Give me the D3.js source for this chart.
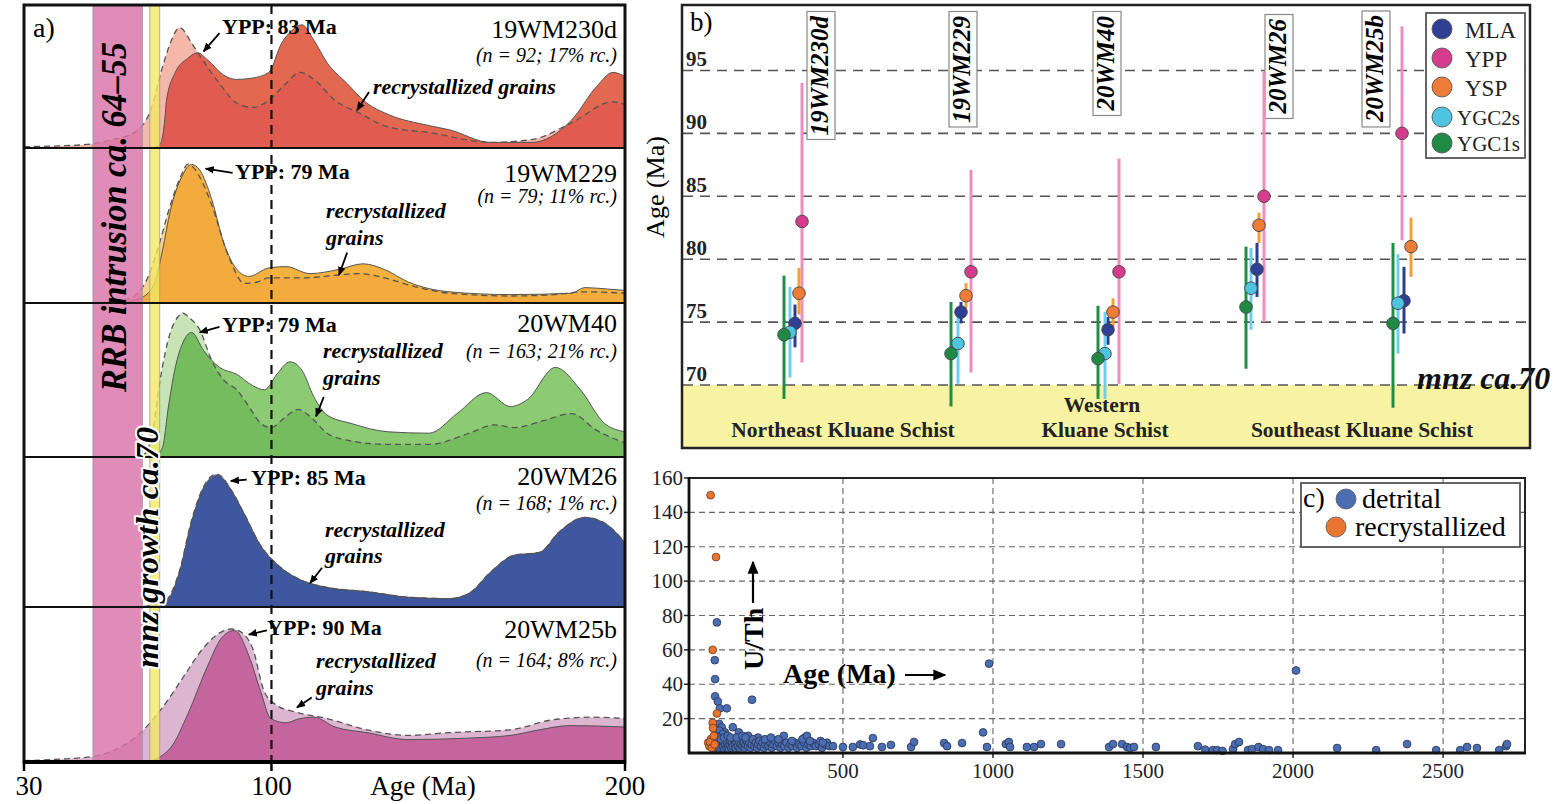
<!DOCTYPE html>
<html><head><meta charset="utf-8">
<script src="https://cdn.jsdelivr.net/npm/d3@7"></script>
<style>body{margin:0;background:#fff}svg{display:block}</style>
</head><body>
<script>
// ================= DATA =================
// ---- panel a: KDE curves, [age (Ma), relative density] ----
const ageTicksA = [30, 100, 200];
const sampleNames = ["19WM230d", "19WM229", "20WM40", "20WM26", "20WM25b"];
const nLabels = ["(n = 92; 17% rc.)", "(n = 79; 11% rc.)", "(n = 163; 21% rc.)", "(n = 168; 1% rc.)", "(n = 164; 8% rc.)"];
const yppLabels = ["YPP: 83 Ma", "YPP: 79 Ma", "YPP: 79 Ma", "YPP: 85 Ma", "YPP: 90 Ma"];
const rrbBand = [49.5, 63.5];
const mnzBand = [65.6, 68.4];
const refAge = 100;

const kdeDashed1 = [[30,0.01],[40,0.015],[49.6,0.03],[55,0.06],[61.2,0.11],[65.8,0.27],[69.2,0.58],[71.4,0.75],[74,0.86],[77.4,0.75],[79.7,0.66],[85.3,0.46],[90.2,0.32],[94.7,0.29],[99.2,0.34],[104.1,0.46],[108,0.54],[112,0.49],[118,0.34],[124.8,0.25],[133,0.15],[144.6,0.11],[162,0.04],[173.6,0.06],[184.9,0.18],[196.6,0.33],[200,0.31]];
const kdeSolid1 = [[66.5,0],[68.6,0.03],[69.8,0.2],[70.3,0.34],[72.8,0.54],[76.3,0.64],[79.1,0.68],[81.9,0.63],[86.5,0.52],[90.2,0.49],[94.7,0.5],[99.2,0.54],[102.9,0.75],[105.8,0.84],[108.6,0.88],[112,0.77],[115.7,0.61],[121.4,0.46],[127,0.32],[133,0.24],[144.6,0.16],[150.3,0.13],[162,0.04],[173.6,0.04],[184.9,0.2],[192,0.44],[196.6,0.54],[200,0.51]];
const kdeDashed2 = [[30,0],[55,0.005],[58,0.02],[61.2,0.05],[64.6,0.16],[68,0.4],[71.4,0.7],[74.6,0.92],[76.3,0.99],[77.4,0.98],[79.7,0.9],[83.1,0.7],[87.9,0.33],[92.4,0.14],[96,0.15],[99.2,0.18],[104.1,0.18],[109.7,0.18],[119,0.2],[124.8,0.21],[132,0.18],[138.7,0.13],[150.3,0.07],[167.6,0.05],[180,0.06],[188.6,0.08],[200,0.07]];
const kdeSolid2 = [[58,0],[61.2,0.02],[63.5,0.04],[66.9,0.14],[69.2,0.38],[71.4,0.66],[74.6,0.9],[77.4,0.99],[79.7,0.95],[83.1,0.74],[86.5,0.43],[90.2,0.24],[93.6,0.19],[99.2,0.25],[104.1,0.26],[110.9,0.21],[119.1,0.24],[125.9,0.28],[131.9,0.24],[138.7,0.15],[150.3,0.08],[167.6,0.06],[184.9,0.07],[188.6,0.11],[195,0.1],[200,0.09]];
const kdeDashed3 = [[30,0],[62,0],[64.5,0.03],[66.5,0.2],[68.5,0.55],[71.4,0.89],[73.5,1.0],[74.9,1.03],[76.5,1.0],[79.7,0.91],[83.1,0.69],[86.5,0.55],[90.2,0.48],[93.6,0.36],[97,0.24],[99.8,0.21],[104.1,0.29],[107.5,0.34],[110.9,0.29],[115.7,0.17],[121.4,0.12],[133,0.09],[144.6,0.09],[156,0.17],[163,0.23],[168.7,0.21],[177,0.26],[184.9,0.31],[192,0.19],[200,0.1]];
const kdeSolid3 = [[67,0],[69.2,0.07],[70.8,0.35],[72.8,0.64],[75,0.82],[77.4,0.89],[80.8,0.76],[85.3,0.64],[90.2,0.59],[94.7,0.51],[98,0.48],[101.8,0.6],[105.2,0.68],[108.6,0.62],[112,0.43],[115.7,0.3],[122.5,0.24],[133,0.18],[144.6,0.17],[152.5,0.31],[160.8,0.46],[167.6,0.36],[172.4,0.41],[180.3,0.64],[187.4,0.48],[194.2,0.24],[200,0.18]];
const kdeDashed4 = [[62,0],[67.5,0.02],[70.3,0.05],[74,0.26],[77.4,0.62],[80.8,0.86],[84.5,0.95],[89,0.82],[92.4,0.66],[96.9,0.44],[101.8,0.3],[108.6,0.19],[115.7,0.14],[127,0.11],[138.7,0.07],[150.3,0.06],[156,0.1],[162,0.25],[168.7,0.37],[175.8,0.39],[181.5,0.54],[188.6,0.64],[194.2,0.6],[200,0.46]];
const kdeSolid4 = [[62,0],[67.5,0.02],[70.3,0.04],[74,0.25],[77.4,0.61],[80.8,0.85],[84.8,0.94],[89,0.82],[92.4,0.66],[96.9,0.44],[101.8,0.3],[108.6,0.19],[115.7,0.14],[127,0.11],[138.7,0.07],[150.3,0.06],[156,0.1],[162,0.25],[168.7,0.37],[175.8,0.39],[181.5,0.54],[188.6,0.64],[194.2,0.6],[200,0.46]];
const kdeDashed5 = [[30,0.01],[40,0.02],[49.6,0.04],[55,0.08],[61.2,0.17],[69.2,0.39],[74.9,0.6],[80.6,0.81],[85.9,0.93],[88.5,0.95],[90.5,0.94],[94.7,0.81],[98,0.5],[101.8,0.4],[106.3,0.36],[115.7,0.31],[127,0.23],[138.7,0.19],[150.3,0.21],[167.6,0.23],[179.2,0.3],[190.8,0.32],[200,0.31]];
const kdeSolid5 = [[65,0],[68,0.03],[72,0.12],[76.3,0.34],[82,0.69],[86,0.89],[89.6,0.94],[93.6,0.76],[97,0.5],[99.8,0.31],[104.1,0.28],[108,0.31],[112,0.32],[118,0.25],[127,0.21],[138.7,0.16],[155,0.17],[167.6,0.19],[175.8,0.23],[184.5,0.26],[200,0.25]];
const kdeDashed = [kdeDashed1, kdeDashed2, kdeDashed3, kdeDashed4, kdeDashed5];
const kdeSolid = [kdeSolid1, kdeSolid2, kdeSolid3, kdeSolid4, kdeSolid5];

// ---- panel b: ages (Ma) per sample; point, low, high ----
const bSamples = ["19WM230d", "19WM229", "20WM40", "20WM26", "20WM25b"];
const bSeries = ["MLA", "YPP", "YSP", "YGC2s", "YGC1s"];
const bTicks = [70, 75, 80, 85, 90, 95];
const bGroups = [["Northeast Kluane Schist"], ["Western", "Kluane Schist"], ["Southeast Kluane Schist"]];
const mlaVal = [74.9, 75.8, 74.4, 79.2, 76.7], mlaLo = [73.0, 74.9, 73.2, 77.0, 74.1], mlaHi = [76.4, 76.6, 75.4, 81.3, 79.4];
const yppVal = [83.0, 79.0, 79.0, 85.0, 90.0], yppLo = [71.8, 71.0, 70.1, 75.0, 81.5], yppHi = [94.0, 87.1, 88.0, 94.9, 98.5];
const yspVal = [77.3, 77.1, 75.8, 82.7, 81.0], yspLo = [75.6, 76.1, 74.6, 81.3, 78.6], yspHi = [79.3, 78.1, 76.9, 83.7, 83.3];
const ygc2Val = [74.2, 73.3, 72.5, 77.7, 76.5], ygc2Lo = [70.6, 70.1, 68.9, 74.4, 72.5], ygc2Hi = [77.8, 75.9, 75.8, 80.9, 80.4];
const ygc1Val = [74.0, 72.5, 72.1, 76.2, 74.9], ygc1Lo = [68.9, 68.3, 68.9, 71.3, 68.2], ygc1Hi = [78.7, 76.6, 76.3, 81.0, 81.3];
const mnzAge = 70;

// ---- panel c: [age (Ma), U/Th] ----
const cTicksX = [500, 1000, 1500, 2000, 2500];
const cTicksY = [20, 40, 60, 80, 100, 120, 140, 160];
const detrital = [
 [73,54],[80,76],[74,43],[74,33],[83,30],[90,26],[113,26],[197,31],[987,52],[967,12],[2010,48],
 [87,17],[96,15],[107,12],[133,15],[153,12],[184,10],[303,10],[373,9],[217,9],[95,10],[120,9],[88,13],[100,11],
 [62,5],[65,3],[68,6],[70,4],[72,2],[75,7],[78,5],[80,3],[82,8],[85,4],[88,6],[90,2],[92,5],[95,3],[98,7],[100,4],
 [103,6],[105,2],[108,5],[110,8],[112,3],[115,6],[118,4],[120,2],[123,5],[125,7],[128,3],[130,6],[133,4],[136,8],
 [140,5],[143,3],[146,6],[150,4],[153,7],[156,3],[160,5],[163,8],[166,4],[170,6],[173,3],[176,5],[180,7],[184,4],
 [188,6],[192,3],[196,5],[200,8],[205,4],[210,6],[214,3],[218,5],[222,7],[227,4],[232,6],[237,3],[242,5],[247,7],
 [252,4],[258,6],[263,3],[268,5],[274,7],[280,4],[286,6],[292,3],[298,5],[305,4],[312,6],[318,3],[325,5],[332,4],
 [340,6],[347,3],[355,5],[362,4],[370,6],[378,3],[385,5],[393,4],[400,6],[410,4],[420,5],[430,3],[440,5],[447,6],
 [455,4],[467,4],[66,8],[76,10],[84,9],[94,8],[104,9],[116,10],[126,9],[146,9],[165,10],[175,9],[240,8],[260,9],
 [285,8],[330,7],[365,8],[380,10],[390,7],[425,7],[433,6],
 [500,3.5],[533,3.5],[557,5],[567,4.5],[590,4],[600,8.7],[630,3.5],[660,4.7],[727,3.5],[737,6.4],[837,5.8],[847,4],
 [897,5.8],[980,3.5],[1043,5.2],[1053,6.4],[1057,3.5],[1113,3.5],[1137,3.5],[1160,5.2],[1227,5.2],[1387,3.5],
 [1400,5.2],[1430,5.2],[1447,3.5],[1457,2.9],[1470,3.5],[1543,3.5],[1683,4],[1707,2],[1733,1.7],[1747,1.7],
 [1765,1.2],[1800,2.3],[1807,5.2],[1820,6.4],[1850,1.7],[1863,2.3],[1885,3.5],[1900,2.3],[1920,1.7],[1950,1.7],
 [2147,2.9],[2277,1.7],[2380,5.2],[2477,1.7],[2557,1.7],[2580,3.5],[2613,2.9],[2687,1.7],[2710,4],[2713,5.2]];
const recrystallized = [[59,150],[77,114],[66,60],[80,23],[66,17.5],[67,14.5],[51,6],[55,4],[60,8],[57,6.4],[63,3],[70,10],[72,5]];

// ================= STYLE / LAYOUT =================
const SERIF = '"Liberation Serif","Times New Roman",serif';
const rowFill = [
  {light:"#f4b8ab", mid:"#e2694f", dark:"#e05c50"},
  {light:"#f9d28e", mid:"#f3b13f", dark:"#f2ab3c"},
  {light:"#c8e4b6", mid:"#8ccb73", dark:"#74bc5e"},
  {light:"#8f9fd2", mid:"#40599f", dark:"#3f579e"},
  {light:"#dcb6d1", mid:"#c86ba0", dark:"#c5659d"}];
const rowTop = [5, 148, 303, 457, 607], rowBase = [148, 303, 457, 607, 762];
const yppArrows = [[[85.3,0.82],[80.8,0.69]],[[89.0,0.93],[81.4,0.96]],[[85.3,0.93],[79.7,0.89]],[[93,0.91],[88.5,0.9]],[[98.7,0.94],[93.6,0.91]]];
const rcArrows = [[[127.6,0.40],[124.2,0.27]],[[121.4,0.36],[119.1,0.2]],[[114.8,0.43],[112.6,0.29]],[[114.3,0.28],[110.9,0.17]],[[111.4,0.46],[107.2,0.39]]];
const yppPos = [[222,29],[235,31],[222,29],[251,28],[267,28]];
const namePos = [33, 34, 29, 28, 31];
const nPos = [57, 55, 55, 53, 60];
const rcPos = [[373,89,null],[326,70,97],[323,55,82],[325,80,106],[316,61,88]];

const svg = d3.select("body").append("svg").attr("width",1557).attr("height",804).style("font-family",SERIF);
svg.append("rect").attr("width",1557).attr("height",804).attr("fill","#fff");
const defs = svg.append("defs");
function mk(id, size){
  defs.append("marker").attr("id",id).attr("viewBox","0 0 10 10").attr("refX",9).attr("refY",5)
    .attr("markerUnits","userSpaceOnUse").attr("markerWidth",size).attr("markerHeight",size).attr("orient","auto")
    .append("path").attr("d","M0,0.8 L10,5 L0,9.2 Z").attr("fill","#000");
}
mk("ahA", 9); mk("ahC", 13);

// ================= PANEL A =================
const xA = d3.scaleLinear().domain([30,200]).range([24,625]);
const gA = svg.append("g");
defs.append("clipPath").attr("id","clipA").append("rect").attr("x",24).attr("y",5).attr("width",601).attr("height",757);
const curves = gA.append("g").attr("clip-path","url(#clipA)");
sampleNames.forEach((nm,i)=>{
  const y = d3.scaleLinear().domain([0,1]).range([rowBase[i], rowBase[i]-140]);
  const area = d3.area().x(d=>xA(d[0])).y0(y(0)).y1(d=>y(d[1])).curve(d3.curveMonotoneX);
  const line = d3.line().x(d=>xA(d[0])).y(d=>y(d[1])).curve(d3.curveMonotoneX);
  curves.append("path").attr("d",area(kdeDashed[i])).attr("fill",rowFill[i].light);
  curves.append("path").attr("d",area(kdeSolid[i])).attr("fill",rowFill[i].mid);
  defs.append("clipPath").attr("id","sc"+i).append("path").attr("d",area(kdeSolid[i]));
  curves.append("path").attr("d",area(kdeDashed[i])).attr("fill",rowFill[i].dark).attr("clip-path",`url(#sc${i})`);
  curves.append("path").attr("d",line(kdeSolid[i])).attr("fill","none").attr("stroke","#555").attr("stroke-width",1);
  curves.append("path").attr("d",line(kdeDashed[i])).attr("fill","none").attr("stroke","#555").attr("stroke-width",1.3).attr("stroke-dasharray","6,4");
});
// bands
gA.append("rect").attr("x",xA(rrbBand[0])).attr("y",5).attr("width",xA(rrbBand[1])-xA(rrbBand[0])).attr("height",757)
  .attr("fill","#d873a8").attr("fill-opacity",0.82).attr("stroke","#999").attr("stroke-width",0.8);
gA.append("rect").attr("x",xA(mnzBand[0])).attr("y",5).attr("width",xA(mnzBand[1])-xA(mnzBand[0])).attr("height",757)
  .attr("fill","#f3e860").attr("fill-opacity",0.78).attr("stroke","#999").attr("stroke-width",0.8);
// row dividers
rowBase.slice(0,4).forEach(b=>gA.append("line").attr("x1",24).attr("x2",625).attr("y1",b).attr("y2",b).attr("stroke","#111").attr("stroke-width",2));
// reference 100 Ma
gA.append("line").attr("x1",xA(refAge)).attr("x2",xA(refAge)).attr("y1",5).attr("y2",762).attr("stroke","#111").attr("stroke-width",2.2).attr("stroke-dasharray","9,6");
// border and axis
gA.append("rect").attr("x",24).attr("y",5).attr("width",601).attr("height",757).attr("fill","none").attr("stroke","#111").attr("stroke-width",3);
gA.append("line").attr("x1",23).attr("x2",626).attr("y1",762).attr("y2",762).attr("stroke","#000").attr("stroke-width",4);
ageTicksA.forEach(t=>{
  gA.append("line").attr("x1",xA(t)).attr("x2",xA(t)).attr("y1",762).attr("y2",771).attr("stroke","#000").attr("stroke-width",2.5);
  gA.append("text").attr("x",xA(t)+(t===30?5:0)).attr("y",795).attr("text-anchor","middle").attr("font-size",27).text(t);
});
gA.append("text").attr("x",423).attr("y",795).attr("text-anchor","middle").attr("font-size",27).text("Age (Ma)");
// band labels
gA.append("text").attr("transform",`translate(126,392) rotate(-90)`).attr("font-size",35).attr("font-weight","bold").attr("font-style","italic")
  .attr("textLength",350).attr("lengthAdjust","spacingAndGlyphs").text("RRB intrusion ca. 64–55");
gA.append("text").attr("transform",`translate(158,668) rotate(-90)`).attr("font-size",32).attr("font-weight","bold").attr("font-style","italic")
  .attr("textLength",241).attr("lengthAdjust","spacingAndGlyphs")
  .attr("stroke","#fff").attr("stroke-width",4).attr("paint-order","stroke").attr("stroke-linejoin","round").text("mnz growth ca.70");
gA.append("text").attr("x",33).attr("y",37).attr("font-size",28).text("a)");
// row annotations
sampleNames.forEach((nm,i)=>{
  const y = d3.scaleLinear().domain([0,1]).range([rowBase[i], rowBase[i]-140]);
  const t = rowTop[i];
  gA.append("text").attr("x",617).attr("y",t+namePos[i]).attr("text-anchor","end").attr("font-size",26).text(nm);
  gA.append("text").attr("x",617).attr("y",t+nPos[i]).attr("text-anchor","end").attr("font-size",20).attr("font-style","italic").text(nLabels[i]);
  gA.append("text").attr("x",yppPos[i][0]).attr("y",t+yppPos[i][1]).attr("font-size",22).attr("font-weight","bold").text(yppLabels[i]);
  const rc = rcPos[i];
  const rt = gA.append("text").attr("font-size",22).attr("font-weight","bold").attr("font-style","italic");
  if (rc[2]===null) rt.attr("x",rc[0]).attr("y",t+rc[1]).text("recrystallized grains");
  else {
    rt.append("tspan").attr("x",rc[0]).attr("y",t+rc[1]).text("recrystallized");
    rt.append("tspan").attr("x",rc[0]).attr("y",t+rc[2]).text("grains");
  }
  [yppArrows[i], rcArrows[i]].forEach(a=>{
    gA.append("line").attr("x1",xA(a[0][0])).attr("y1",y(a[0][1])).attr("x2",xA(a[1][0])).attr("y2",y(a[1][1]))
      .attr("stroke","#000").attr("stroke-width",1.8).attr("marker-end","url(#ahA)");
  });
});

// ================= PANEL B =================
const xB = d3.scaleLinear().domain([0,850]).range([681,1531]);
const yB = d3.scaleLinear().domain([65,100.2]).range([448,5]);
const gB = svg.append("g");
gB.append("rect").attr("x",682).attr("y",yB(mnzAge)).attr("width",848).attr("height",448-yB(mnzAge)).attr("fill","#f8f3a2");
bTicks.forEach(t=>{
  gB.append("line").attr("x1",683).attr("x2",1529).attr("y1",yB(t)).attr("y2",yB(t)).attr("stroke","#555").attr("stroke-width",1.6).attr("stroke-dasharray","10,7");
  gB.append("text").attr("x",686).attr("y",yB(t)-4).attr("font-size",21).attr("font-weight","bold").attr("fill","#222").text(t);
});
gB.append("text").attr("x",690).attr("y",31).attr("font-size",27).text("b)");
gB.append("text").attr("transform","translate(664,187) rotate(-90)").attr("text-anchor","middle").attr("font-size",26).text("Age (Ma)");
// group labels
const groupX = [162, 424, 681];
bGroups.forEach((g,i)=>{
  g.forEach((ln,j)=>{
    gB.append("text").attr("x",xB(groupX[i]) + (g.length>1 && j===0 ? -3 : 0)).attr("y",g.length>1 ? 412+j*25 : 437).attr("text-anchor","middle")
      .attr("font-size",21.5).attr("font-weight","bold").attr("fill","#222").text(ln);
  });
});
gB.append("text").attr("x",1417).attr("y",389).attr("font-size",32).attr("font-weight","bold").attr("font-style","italic").attr("fill","#111").text("mnz ca.70");
// sample label boxes
const bLabelX = [140, 282, 426, 598, 695];
const bLabelTop = [12, 12, 12, 15, 11];
bSamples.forEach((s,i)=>{
  const g = gB.append("g").attr("transform",`translate(${xB(bLabelX[i])+7},${bLabelTop[i]+4}) rotate(-90)`);
  const r = g.append("rect");
  const t = g.append("text").attr("text-anchor","end").attr("font-size",25).attr("font-weight","bold").attr("font-style","italic").text(s);
  const bb = t.node().getBBox();
  r.attr("x",bb.x-4).attr("y",bb.y+1).attr("width",bb.width+8).attr("height",bb.height+1).attr("fill","#fff").attr("stroke","#888").attr("stroke-width",1.2);
});
// series
const series = [
  {name:"YPP", val:yppVal, lo:yppLo, hi:yppHi, x:[121,290,438,583,721], pt:"#d63c8e", bar:"#f08cbf"},
  {name:"YSP", val:yspVal, lo:yspLo, hi:yspHi, x:[118,285,432,578,730], pt:"#ee7c36", bar:"#f4a032"},
  {name:"MLA", val:mlaVal, lo:mlaLo, hi:mlaHi, x:[114,280,427,576,723], pt:"#2f3f93", bar:"#2c3d90"},
  {name:"YGC2s", val:ygc2Val, lo:ygc2Lo, hi:ygc2Hi, x:[109,277,424,570,717], pt:"#4ec4e2", bar:"#6ccff0"},
  {name:"YGC1s", val:ygc1Val, lo:ygc1Lo, hi:ygc1Hi, x:[103,270,417,565,712], pt:"#1f8a46", bar:"#1c8e45"}];
series.forEach(s=>{
  s.val.forEach((v,i)=>gB.append("line").attr("x1",xB(s.x[i])).attr("x2",xB(s.x[i])).attr("y1",yB(s.lo[i])).attr("y2",yB(s.hi[i]))
    .attr("stroke",s.bar).attr("stroke-width",3));
});
series.forEach(s=>{
  s.val.forEach((v,i)=>gB.append("circle").attr("cx",xB(s.x[i])).attr("cy",yB(v)).attr("r",6.3)
    .attr("fill",s.pt).attr("stroke","#444").attr("stroke-width",0.9));
});
// legend b
const legB = gB.append("g");
legB.append("rect").attr("x",1426).attr("y",13).attr("width",99).attr("height",145).attr("fill","#fff").attr("stroke","#555").attr("stroke-width",1.8);
const legOrder = ["MLA","YPP","YSP","YGC2s","YGC1s"];
const legY = [29, 58, 87, 117, 143];
legOrder.forEach((n,i)=>{
  const s = series.find(d=>d.name===n);
  legB.append("circle").attr("cx",1442).attr("cy",legY[i]).attr("r",10).attr("fill",s.pt).attr("stroke","#555").attr("stroke-width",0.9);
  const big = i<3;
  legB.append("text").attr("x",big?1465:1457).attr("y",legY[i]+(big?9:8)).attr("font-size",big?23:21).attr("fill","#222").text(n);
});
gB.append("rect").attr("x",682).attr("y",5).attr("width",848).attr("height",443).attr("fill","none").attr("stroke","#222").attr("stroke-width",2.5);

// ================= PANEL C =================
const xC = d3.scaleLinear().domain([-13,2773]).range([689,1525]);
const yC = d3.scaleLinear().domain([0,160]).range([753,478]);
const gC = svg.append("g");
cTicksX.forEach(t=>{
  gC.append("line").attr("x1",xC(t)).attr("x2",xC(t)).attr("y1",478).attr("y2",753).attr("stroke","#666").attr("stroke-width",1.1).attr("stroke-dasharray","6,4");
  gC.append("line").attr("x1",xC(t)).attr("x2",xC(t)).attr("y1",753).attr("y2",758).attr("stroke","#222").attr("stroke-width",1.5);
  gC.append("text").attr("x",xC(t)).attr("y",778).attr("text-anchor","middle").attr("font-size",21).attr("fill","#222").text(t);
});
cTicksY.forEach(t=>{
  if (t<160) gC.append("line").attr("x1",689).attr("x2",1525).attr("y1",yC(t)).attr("y2",yC(t)).attr("stroke","#666").attr("stroke-width",1.1).attr("stroke-dasharray","6,4");
  gC.append("line").attr("x1",684).attr("x2",689).attr("y1",yC(t)).attr("y2",yC(t)).attr("stroke","#222").attr("stroke-width",1.5);
  gC.append("text").attr("x",683).attr("y",yC(t)+7).attr("text-anchor","end").attr("font-size",21).attr("fill","#222").text(t);
});
// annotations
const ut = gC.append("g").attr("transform","translate(763,670) rotate(-90)");
ut.append("text").attr("font-size",28).attr("font-weight","bold").text("U/Th");
ut.append("line").attr("x1",67).attr("x2",108).attr("y1",-10).attr("y2",-10).attr("stroke","#000").attr("stroke-width",2.2).attr("marker-end","url(#ahC)");
gC.append("text").attr("x",783).attr("y",683).attr("font-size",28).attr("font-weight","bold").text("Age (Ma)");
gC.append("line").attr("x1",905).attr("x2",945).attr("y1",675).attr("y2",675).attr("stroke","#000").attr("stroke-width",2.2).attr("marker-end","url(#ahC)");
// points
detrital.forEach(d=>gC.append("circle").attr("cx",xC(d[0])).attr("cy",yC(d[1])).attr("r",3.9).attr("fill","#4a6db3").attr("stroke","#2a3550").attr("stroke-width",0.8));
recrystallized.forEach(d=>gC.append("circle").attr("cx",xC(d[0])).attr("cy",yC(d[1])).attr("r",3.9).attr("fill","#e8742f").attr("stroke","#6a3a20").attr("stroke-width",0.8));
// frame
gC.append("rect").attr("x",689).attr("y",478).attr("width",836).attr("height",275).attr("fill","none").attr("stroke","#222").attr("stroke-width",2);
gC.append("line").attr("x1",689).attr("x2",689).attr("y1",477).attr("y2",754).attr("stroke","#111").attr("stroke-width",2.8);
gC.append("line").attr("x1",688).attr("x2",1526).attr("y1",753).attr("y2",753).attr("stroke","#111").attr("stroke-width",2.8);
// legend c
const legC = gC.append("g");
legC.append("rect").attr("x",1301).attr("y",483).attr("width",219).attr("height",64).attr("fill","#fff").attr("stroke","#555").attr("stroke-width",1.8);
legC.append("text").attr("x",1303).attr("y",507).attr("font-size",28).text("c)");
legC.append("circle").attr("cx",1346).attr("cy",499).attr("r",10).attr("fill","#4a6db3").attr("stroke","#555").attr("stroke-width",0.8);
legC.append("text").attr("x",1362).attr("y",508).attr("font-size",28).text("detrital");
legC.append("circle").attr("cx",1336).attr("cy",527).attr("r",10).attr("fill","#e8742f").attr("stroke","#555").attr("stroke-width",0.8);
legC.append("text").attr("x",1355).attr("y",536).attr("font-size",28).text("recrystallized");
</script>
</body></html>
